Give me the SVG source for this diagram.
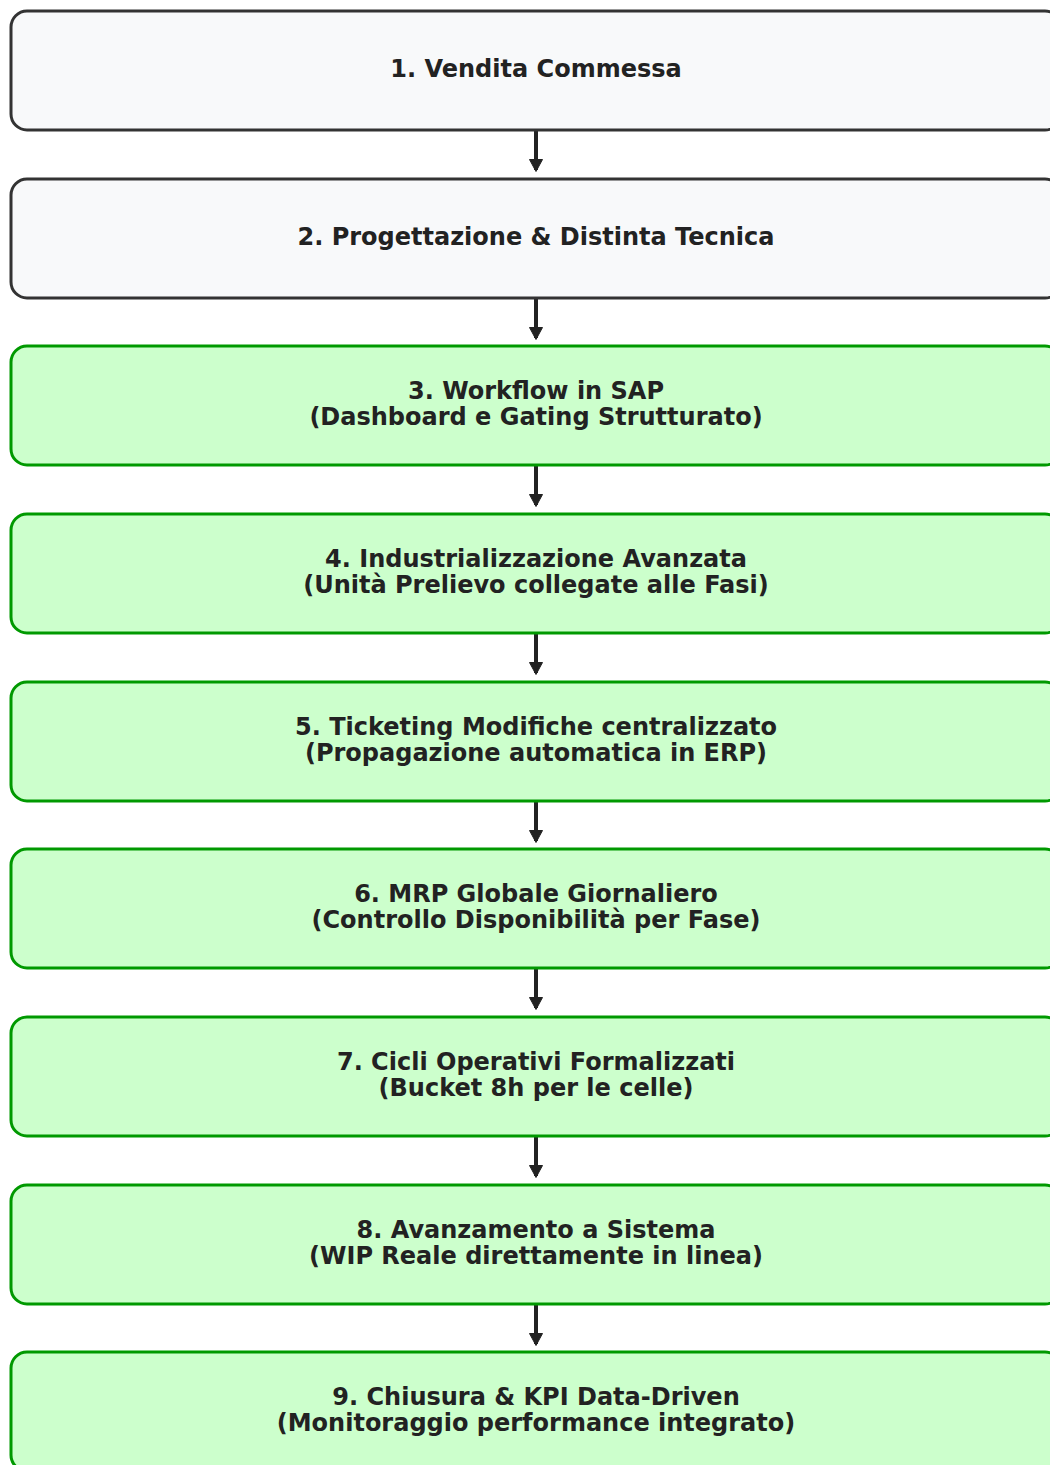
<svg xmlns="http://www.w3.org/2000/svg" width="1050" height="1465" viewBox="0 0 1050 1465">
<defs>
<style>
.n rect{stroke-width:3}
.g rect{fill:#ccffcc;stroke:#009900}
.w rect{fill:#f8f9fa;stroke:#333333}
text{font-family:"DejaVu Sans",sans-serif;font-weight:bold;font-size:24px;fill:#222222;text-anchor:middle;dominant-baseline:central}
.c line{stroke:#222222;stroke-width:4}
</style>
<marker id="ah" markerWidth="14" markerHeight="14" refX="11" refY="7" orient="auto" markerUnits="userSpaceOnUse" viewBox="0 0 14 14"><path d="M0.5,0.5 L12.5,7 L0.5,13.5 z" fill="#222222" stroke="#222222" stroke-width="1" stroke-linejoin="round"/></marker>
</defs>
<rect width="1050" height="1465" fill="#ffffff"/>
<g class="c">
<line x1="536" y1="130" x2="536" y2="170" marker-end="url(#ah)"/>
<line x1="536" y1="298" x2="536" y2="338" marker-end="url(#ah)"/>
<line x1="536" y1="465" x2="536" y2="505" marker-end="url(#ah)"/>
<line x1="536" y1="633" x2="536" y2="673" marker-end="url(#ah)"/>
<line x1="536" y1="801" x2="536" y2="841" marker-end="url(#ah)"/>
<line x1="536" y1="968" x2="536" y2="1008" marker-end="url(#ah)"/>
<line x1="536" y1="1136" x2="536" y2="1176" marker-end="url(#ah)"/>
<line x1="536" y1="1304" x2="536" y2="1344" marker-end="url(#ah)"/>
</g>
<g id="n1" class="n w"><rect x="11" y="11" width="1050" height="119" rx="16"/><text x="536" y="69">1. Vendita Commessa</text></g>
<g id="n2" class="n w"><rect x="11" y="179" width="1050" height="119" rx="16"/><text x="536" y="237">2. Progettazione &amp; Distinta Tecnica</text></g>
<g id="n3" class="n g"><rect x="11" y="346" width="1050" height="119" rx="16"/><text x="536" y="391">3. Workflow in SAP</text><text x="536" y="417">(Dashboard e Gating Strutturato)</text></g>
<g id="n4" class="n g"><rect x="11" y="514" width="1050" height="119" rx="16"/><text x="536" y="559">4. Industrializzazione Avanzata</text><text x="536" y="585">(Unità Prelievo collegate alle Fasi)</text></g>
<g id="n5" class="n g"><rect x="11" y="682" width="1050" height="119" rx="16"/><text x="536" y="727">5. Ticketing Modifiche centralizzato</text><text x="536" y="753">(Propagazione automatica in ERP)</text></g>
<g id="n6" class="n g"><rect x="11" y="849" width="1050" height="119" rx="16"/><text x="536" y="894">6. MRP Globale Giornaliero</text><text x="536" y="920">(Controllo Disponibilità per Fase)</text></g>
<g id="n7" class="n g"><rect x="11" y="1017" width="1050" height="119" rx="16"/><text x="536" y="1062">7. Cicli Operativi Formalizzati</text><text x="536" y="1088">(Bucket 8h per le celle)</text></g>
<g id="n8" class="n g"><rect x="11" y="1185" width="1050" height="119" rx="16"/><text x="536" y="1230">8. Avanzamento a Sistema</text><text x="536" y="1256">(WIP Reale direttamente in linea)</text></g>
<g id="n9" class="n g"><rect x="11" y="1352" width="1050" height="119" rx="16"/><text x="536" y="1397">9. Chiusura &amp; KPI Data-Driven</text><text x="536" y="1423">(Monitoraggio performance integrato)</text></g>
</svg>
